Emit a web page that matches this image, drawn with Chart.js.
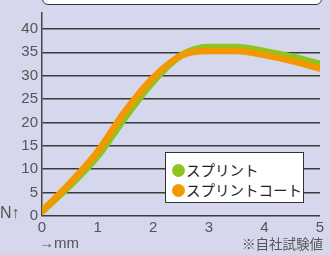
<!DOCTYPE html>
<html><head><meta charset="utf-8">
<script src="https://cdn.jsdelivr.net/npm/chart.js@4"></script>
<style>
html,body{margin:0;padding:0;background:#d5d7ed;}
#wrap{position:relative;width:330px;height:255px;overflow:hidden;background:#d5d7ed;font-family:"Noto Sans CJK JP","Liberation Sans",sans-serif;}
#topbox{position:absolute;left:42px;top:-20px;width:278px;height:23px;background:#fff;border:1.5px solid #333;border-radius:6px;}
.t{position:absolute;white-space:nowrap;color:#555;}
#legend{position:absolute;left:165px;top:152px;width:139px;height:51px;background:#fff;border:1.5px solid #333;box-sizing:border-box;font-size:14.5px;color:#222;}
.row{position:absolute;left:6px;height:18px;line-height:18px;}
.dot{display:inline-block;width:13px;height:13px;border-radius:50%;vertical-align:-1px;margin-right:1px;}
</style></head><body>
<div id="wrap">
<canvas id="c" width="330" height="255"></canvas>
<div id="topbox"></div>
<div id="legend"></div>
<div class="t" style="left:0px;top:204px;font-size:16px;font-family:'Liberation Sans',sans-serif;">N↑</div>
<div class="t" style="left:39px;top:234px;font-size:15px;font-family:'Liberation Sans',sans-serif;">→mm</div>
<div class="t" style="right:7px;top:233px;font-size:13.5px;">※自社試験値</div>
</div>
<script>
const xValues = [0, 0.5, 1, 1.5, 2, 2.5, 3, 3.5, 4, 4.5, 5];
const splint = [1, 6.5, 12.8, 21.2, 28.8, 34.3, 36.1, 36.1, 35.2, 34, 32.5];
const splintCoat = [1, 7, 13.8, 22.5, 29.6, 34.3, 35.3, 35.3, 34.4, 33.1, 31.5];
const seriesNames = ["スプリント", "スプリントコート"];
const seriesColors = ["#8fc31f", "#f39800"];
const yTicks = [0, 5, 10, 15, 20, 25, 30, 35, 40];
const xTicks = [0, 1, 2, 3, 4, 5];

const toPts = arr => arr.map((v, i) => ({x: xValues[i], y: v}));

const lg = document.getElementById('legend');
seriesNames.forEach((n, i) => {
  const d = document.createElement('div');
  d.className = 'row';
  d.style.top = (8 + i * 20) + 'px';
  d.innerHTML = '<span class="dot" style="background:' + seriesColors[i] + '"></span>' + n;
  lg.appendChild(d);
});

new Chart(document.getElementById('c'), {
  type: 'line',
  data: {
    datasets: [
      {label: seriesNames[0], data: toPts(splint), borderColor: seriesColors[0], borderWidth: 7, order: 1},
      {label: seriesNames[1], data: toPts(splintCoat), borderColor: seriesColors[1], borderWidth: 6.5, order: 0}
    ]
  },
  options: {
    responsive: false,
    animation: false,
    layout: {padding: {top: 12, right: 10, left: 0, bottom: 0}},
    elements: {
      point: {radius: 0},
      line: {cubicInterpolationMode: 'monotone', borderCapStyle: 'round', borderJoinStyle: 'round', fill: false}
    },
    plugins: {legend: {display: false}, tooltip: {enabled: false}},
    scales: {
      x: {
        type: 'linear', min: 0, max: 5,
        afterFit: s => { s.height = 39; },
        afterBuildTicks: s => { s.ticks = xTicks.map(v => ({value: v})); },
        grid: {display: false, drawTicks: false},
        border: {display: false},
        ticks: {color: '#555', padding: 3, font: {size: 15, family: 'Liberation Sans'}, maxRotation: 0}
      },
      y: {
        type: 'linear', min: 0, max: 43.4,
        afterFit: s => { s.width = 42; },
        afterBuildTicks: s => { s.ticks = yTicks.map(v => ({value: v})); },
        grid: {color: '#3a3a3a', lineWidth: 1.5, drawTicks: false},
        border: {display: true, color: '#444', width: 1.5},
        ticks: {color: '#555', padding: 4, font: {size: 15, family: 'Liberation Sans'}}
      }
    }
  }
});
</script>
</body></html>
